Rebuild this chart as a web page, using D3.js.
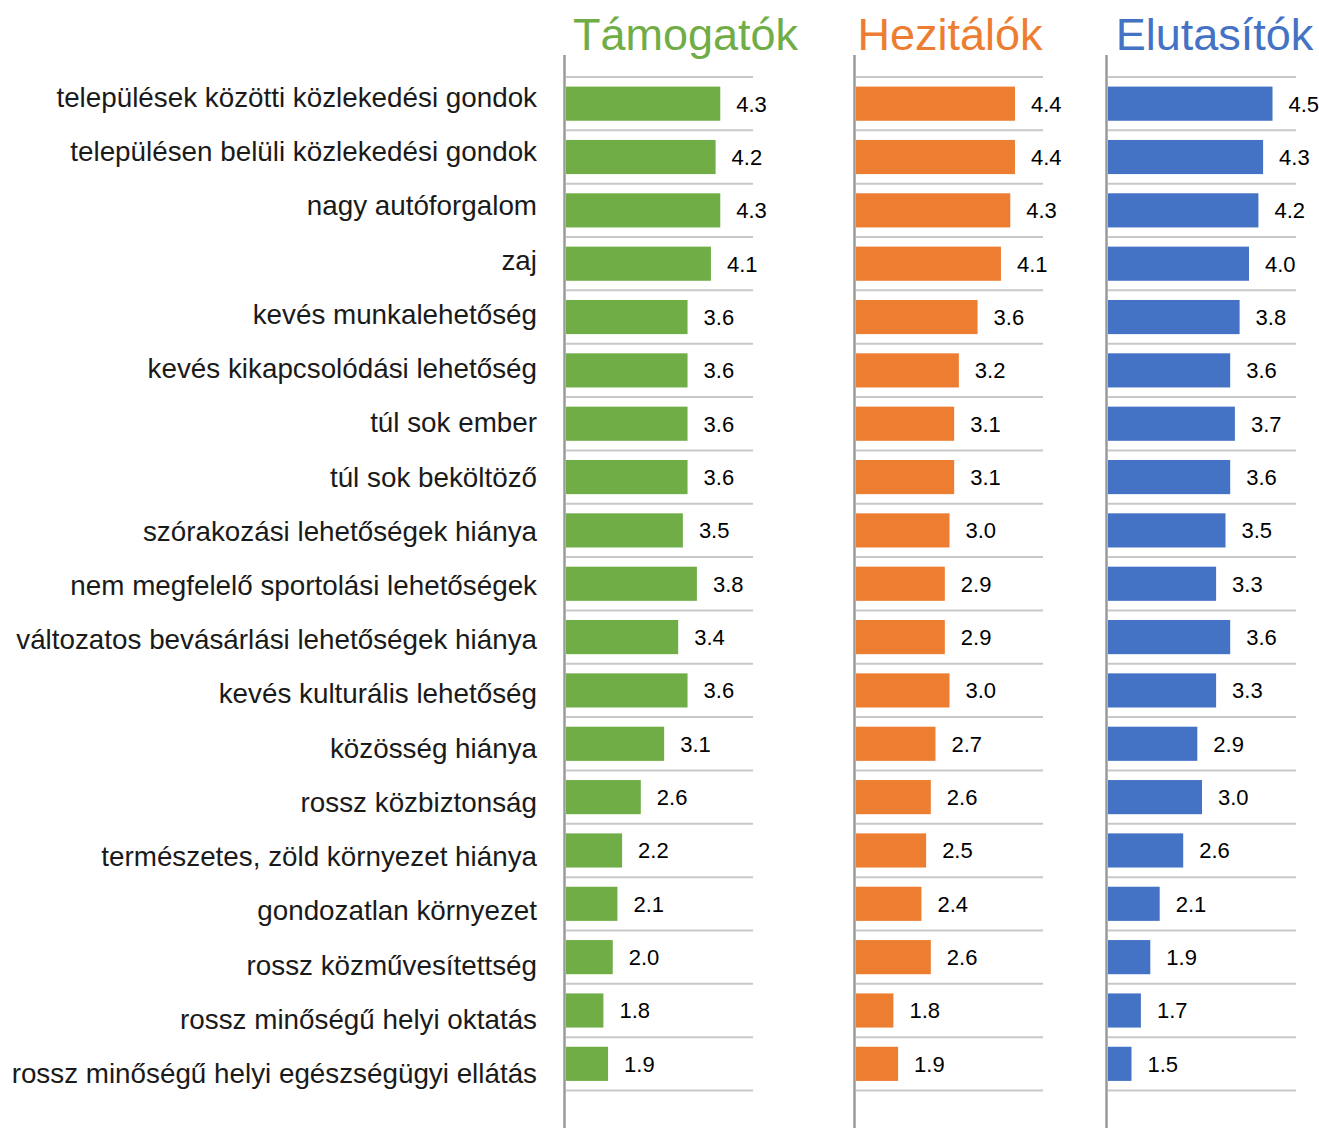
<!DOCTYPE html>
<html>
<head>
<meta charset="utf-8">
<script src="https://cdn.jsdelivr.net/npm/d3@7"></script>
<style>
  html, body { margin: 0; padding: 0; background: #fff; }
  svg { display: block; }
  text { font-family: "Liberation Sans", Arial, Helvetica, sans-serif; }
</style>
</head>
<body>
<svg id="chart" width="1319" height="1128"></svg>
<script>
const categories = [
  "települések közötti közlekedési gondok",
  "településen belüli közlekedési gondok",
  "nagy autóforgalom",
  "zaj",
  "kevés munkalehetőség",
  "kevés kikapcsolódási lehetőség",
  "túl sok ember",
  "túl sok beköltöző",
  "szórakozási lehetőségek hiánya",
  "nem megfelelő sportolási lehetőségek",
  "változatos bevásárlási lehetőségek hiánya",
  "kevés kulturális lehetőség",
  "közösség hiánya",
  "rossz közbiztonság",
  "természetes, zöld környezet hiánya",
  "gondozatlan környezet",
  "rossz közművesítettség",
  "rossz minőségű helyi oktatás",
  "rossz minőségű helyi egészségügyi ellátás"
];
const seriesNames = ["Támogatók", "Hezitálók", "Elutasítók"];
const tamogatok  = [4.3, 4.2, 4.3, 4.1, 3.6, 3.6, 3.6, 3.6, 3.5, 3.8, 3.4, 3.6, 3.1, 2.6, 2.2, 2.1, 2.0, 1.8, 1.9];
const hezitalok  = [4.4, 4.4, 4.3, 4.1, 3.6, 3.2, 3.1, 3.1, 3.0, 2.9, 2.9, 3.0, 2.7, 2.6, 2.5, 2.4, 2.6, 1.8, 1.9];
const elutasitok = [4.5, 4.3, 4.2, 4.0, 3.8, 3.6, 3.7, 3.6, 3.5, 3.3, 3.6, 3.3, 2.9, 3.0, 2.6, 2.1, 1.9, 1.7, 1.5];
const seriesColors = ["#70AD47", "#ED7D31", "#4472C4"];
const scaleDomain = [1, 5];

(function () {
const svg = d3.select("#chart");
const W = 1319, H = 1128;
const plotTop = 77, plotBottom = 1090.5;

const y = d3.scaleBand().domain(categories).range([plotTop, plotBottom]).paddingInner(0.36).paddingOuter(0.18);
const rowStep = (plotBottom - plotTop) / categories.length;
// category labels are spaced slightly wider than the bars in the reference
const yLabel = d3.scalePoint().domain(categories).range([107, 1083]);

const panels = [
  { x0: 566, w: 187, values: tamogatok, tx: 685.5 },
  { x0: 856, w: 187, values: hezitalok, tx: 950 },
  { x0: 1108, w: 188, values: elutasitok, tx: 1214.5 }
];

svg.append("g").selectAll("text").data(categories).join("text")
  .attr("x", 537)
  .attr("y", d => yLabel(d))
  .attr("text-anchor", "end")
  .attr("font-size", 27.8)
  .attr("fill", "#1a1a1a")
  .text(d => d);

panels.forEach((p, i) => {
  const x = d3.scaleLinear().domain(scaleDomain).range([p.x0, p.x0 + p.w]);
  const g = svg.append("g");
  const gridYs = d3.range(categories.length + 1).map(k => plotTop + k * rowStep);
  g.selectAll("line.grid").data(gridYs).join("line")
    .attr("class", "grid")
    .attr("x1", p.x0).attr("x2", p.x0 + p.w)
    .attr("y1", d => d).attr("y2", d => d)
    .attr("stroke", "#c8c8c8").attr("stroke-width", 2);
  g.selectAll("rect").data(p.values).join("rect")
    .attr("x", x(scaleDomain[0]))
    .attr("y", (d, k) => y(categories[k]))
    .attr("width", d => x(d) - x(scaleDomain[0]))
    .attr("height", y.bandwidth())
    .attr("fill", seriesColors[i]);
  g.selectAll("text.val").data(p.values).join("text")
    .attr("class", "val")
    .attr("x", d => x(d) + 16)
    .attr("y", (d, k) => y(categories[k]) + y.bandwidth() / 2 + 8)
    .attr("font-size", 22)
    .attr("fill", "#000")
    .text(d => d3.format(".1f")(d));
  g.append("line")
    .attr("x1", p.x0 - 1.5).attr("x2", p.x0 - 1.5)
    .attr("y1", 55).attr("y2", H)
    .attr("stroke", "#9a9a9a").attr("stroke-width", 2.5);
  g.append("text")
    .attr("x", p.tx)
    .attr("y", 50)
    .attr("text-anchor", "middle")
    .attr("font-size", 45)
    .attr("fill", seriesColors[i])
    .text(seriesNames[i]);
});
})();
</script>
</body>
</html>
